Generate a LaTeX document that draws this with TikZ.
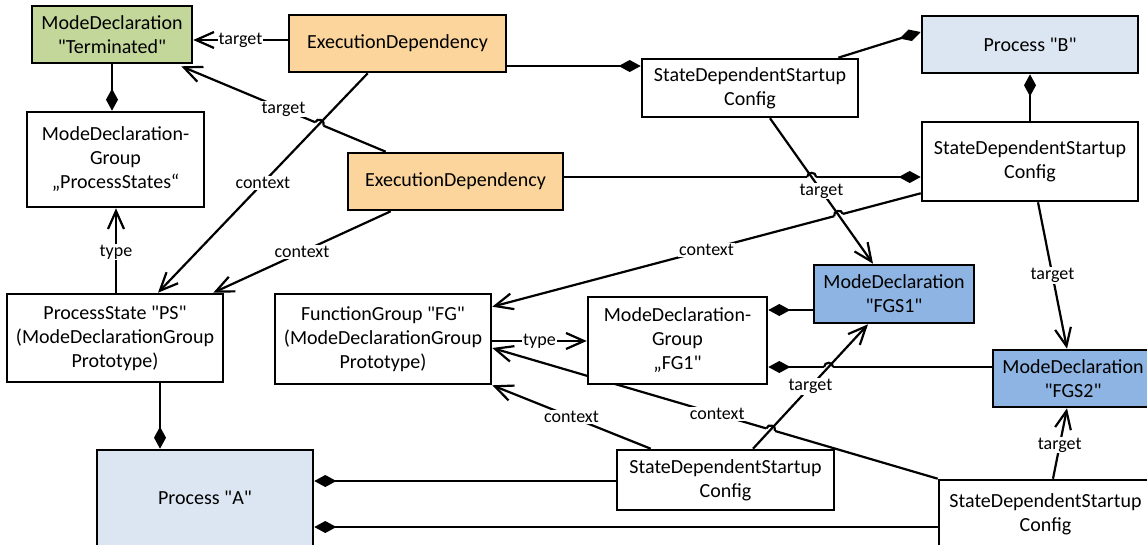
\documentclass[tikz,border=0pt]{standalone}
\usepackage{fontspec}
\setmainfont{Carlito}[Ligatures=TeXOff]
\usetikzlibrary{arrows.meta,calc}
\pgfdeclarelayer{background}
\pgfsetlayers{background,main}
\definecolor{mdgreen}{HTML}{C4D79B}
\definecolor{edorange}{HTML}{FBD59B}
\definecolor{procblue}{HTML}{DCE6F2}
\definecolor{mdblue}{HTML}{8DB4E2}
\newcommand{\lhop}[4]{%
  \coordinate (hpa) at ($(#1)!4.5pt!(#2)$);
  \coordinate (hpb) at ($(#1)!4.5pt!(#3)$);
  \draw[white, line width=3.6pt] (hpa) -- (hpb);
  \draw[conn] (hpa) to[bend #4=90, looseness=1.6] (hpb);}
\begin{document}
\begin{tikzpicture}[x=1pt,y=-1pt,
  box/.style={draw, line width=2.6pt, align=center, inner sep=2pt, fill=white,
    font=\fontsize{20}{24}\selectfont},
  sz/.style 2 args={minimum width=#1pt, minimum height=#2pt},
  conn/.style={line width=2.2pt},
  tgt/.style={conn, -{Straight Barb[length=18pt,width=16pt]}},
  comp/.style={conn, -{Diamond[length=22pt,width=12pt]}},
  lbl/.style={fill=white, inner sep=1pt, font=\fontsize{18}{20}\selectfont},
]
\useasboundingbox (0,0) rectangle (1147,544);

% nodes
\node[box, fill=mdgreen, sz={160}{57}] (mdt) at (112,34.5) {ModeDeclaration\\"Terminated"};
\node[box, fill=edorange, sz={217}{57}] (ed1) at (397.5,43.5) {ExecutionDependency};
\node[box, sz={177}{95}] (mdgps) at (115.5,159.5) {ModeDeclaration-\\Group\\„ProcessStates“};
\node[box, fill=edorange, sz={215}{57}] (ed2) at (455.5,181.5) {ExecutionDependency};
\node[box, sz={216}{58}] (sd1) at (750,88) {StateDependentStartup\\Config};
\node[box, fill=procblue, sz={216}{57}] (pb) at (1030,44.5) {Process "B"};
\node[box, sz={216}{79}] (sd2) at (1030,161.5) {StateDependentStartup\\Config};
\node[box, sz={216}{88}] (ps) at (115,338) {ProcessState "PS"\\(ModeDeclarationGroup\\Prototype)};
\node[box, sz={216}{90}] (fg) at (383,339) {FunctionGroup "FG"\\(ModeDeclarationGroup\\Prototype)};
\node[box, sz={179}{87}] (fg1) at (677.5,340.5) {ModeDeclaration-\\Group\\„FG1"};
\node[box, fill=mdblue, sz={160}{58}] (fgs1) at (894,294) {ModeDeclaration\\"FGS1"};
\node[box, fill=mdblue, sz={160}{57}] (fgs2) at (1073,378.5) {ModeDeclaration\\"FGS2"};
\node[box, fill=procblue, sz={216}{96}] (pa) at (205,498) {Process "A"};
\node[box, sz={217}{60}] (sd3) at (725.5,480) {StateDependentStartup\\Config};
\node[box, sz={213}{68}] (sd4) at (1045.5,514) {StateDependentStartup\\Config};

% end points
\coordinate (c2s) at ($(ed2.north west)+(39,0)$);
\coordinate (c2e) at ($(mdt.south east)+(-12,2)$);
\coordinate (c3s) at ($(ed1.south west)+(80,0)$);
\coordinate (c3e) at ($(ps.north)+(43,0)$);
\coordinate (c8s) at ($(ed2.east)+(0,-4.5)$);
\coordinate (c8e) at ($(sd2.west)+(0,15.5)$);
\coordinate (c9s) at ($(sd1.south)+(20,0)$);
\coordinate (c9e) at ($(fgs1.north)+(-21,0)$);
\coordinate (c10s) at ($(sd2.south west)+(0,-9)$);
\coordinate (c10e) at ($(fg.north east)+(0,14)$);
\coordinate (c12s) at (sd4.north west);
\coordinate (c12e) at ($(fg.east)+(0,9)$);
\coordinate (c13s) at ($(sd3.north)+(27.5,0)$);
\coordinate (c13e) at ($(fgs1.south)+(-26,0)$);
\coordinate (c14s) at ($(fgs2.west)+(0,-11.5)$);
\coordinate (c14e) at ($(fg1.east)+(0,26.5)$);
\coordinate (h1) at (intersection of c2s--c2e and c3s--c3e);
\coordinate (h2) at (intersection of c8s--c8e and c9s--c9e);
\coordinate (h3) at (intersection of c10s--c10e and c9s--c9e);
\coordinate (h4) at (intersection of c14s--c14e and c13s--c13e);
\coordinate (h5) at (intersection of c12s--c12e and c13s--c13e);

% connector passing behind FG1
\begin{pgfonlayer}{background}
\draw[tgt] (c12s) -- node[lbl, pos=0.495]{context} (c12e);
\lhop{h5}{c12s}{c12e}{right}
\end{pgfonlayer}

% connectors
\draw[tgt] ($(ed1.west)+(0,-3.5)$) -- node[lbl]{target} ($(mdt.east)+(0,5.5)$);
\draw[tgt] (c2s) -- node[lbl]{target} (c2e);
\lhop{h1}{c2s}{c2e}{right}
\draw[tgt] (c3s) -- node[lbl]{context} (c3e);
\draw[tgt] ($(ed2.south west)+(44,0)$) -- node[lbl]{context} ($(ps.north east)+(-11,0)$);
\draw[comp] ($(ed1.east)+(0,22.5)$) -- ($(sd1.west)+(0,-22)$);
\draw[comp] ($(sd1.north east)+(-21,0)$) -- ($(pb.west)+(0,-12.5)$);
\draw[comp] (sd2.north) -- (pb.south);
\draw[comp] (c8s) -- (c8e);
\lhop{h2}{c8s}{c8e}{left}
\draw[tgt] (c10s) -- node[lbl]{context} (c10e);
\lhop{h3}{c10s}{c10e}{right}
\draw[tgt] (c9s) -- node[lbl]{target} (c9e);
\draw[tgt] ($(fg.east)+(0,2)$) -- node[lbl]{type} ($(fg1.west)+(0,0.5)$);
\draw[comp] (c14s) -- (c14e);
\lhop{h4}{c14s}{c14e}{right}
\draw[tgt] (c13s) -- node[lbl]{target} (c13e);
\draw[comp] ($(fgs1.west)+(0,16)$) -- ($(fg1.east)+(0,-30.5)$);
\draw[tgt] ($(sd4.north)+(7.5,0)$) -- node[lbl, pos=0.48]{target} ($(fgs2.south)+(-6,0)$);
\draw[tgt] ($(sd2.south)+(8,0)$) -- node[lbl]{target} ($(fgs2.north)+(-6,0)$);
\draw[tgt] ($(sd3.north west)+(35,0)$) -- node[lbl]{context} (fg.south east);
\draw[comp] ($(sd3.west)+(0,1)$) -- ($(pa.east)+(0,-17)$);
\draw[comp] ($(sd4.west)+(0,13)$) -- ($(pa.east)+(0,29)$);
\draw[comp] ($(ps.south)+(45,0)$) -- ($(pa.north)+(-45,0)$);
\draw[tgt] ($(ps.north)+(1,0)$) -- node[lbl, pos=0.48]{type} ($(mdgps.south)+(0.5,0)$);
\draw[comp] (mdt.south) -- ($(mdgps.north)+(-3.5,0)$);
\end{tikzpicture}
\end{document}
